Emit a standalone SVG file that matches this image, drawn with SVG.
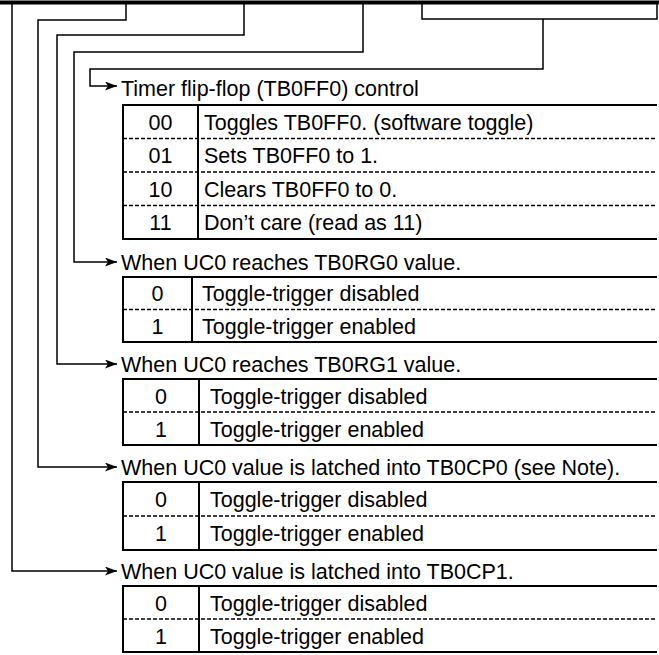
<svg xmlns="http://www.w3.org/2000/svg" width="659" height="655" viewBox="0 0 659 655">
<defs>
<marker id="arr" viewBox="0 0 12 9" refX="12" refY="4.5" markerWidth="12" markerHeight="9" markerUnits="userSpaceOnUse" orient="auto">
<path d="M0,0 L12,4.5 L0,9 L3,4.5 Z" fill="#000"/>
</marker>
<style>
text{font-family:"Liberation Sans",Arial,Helvetica,sans-serif;font-size:21.5px;fill:#000}
.c{text-anchor:middle}
.frame{fill:none;stroke:#000;stroke-width:2}
.dash{fill:none;stroke:#000;stroke-width:1.5;stroke-dasharray:4 2}
.conn{fill:none;stroke:#000;stroke-width:1.5}
.arrow{marker-end:url(#arr)}
</style>
</defs>
<rect width="659" height="655" fill="#fff"/>

<g id="register-bar">
<rect x="0" y="0.5" width="659" height="4" fill="#000"/>
</g>

<g id="connectors">
<path class="conn arrow" d="M12,4 V571 H117"/>
<path class="conn arrow" d="M126,4 V20 H38 V467 H117"/>
<path class="conn arrow" d="M244,4 V35 H57 V364 H117"/>
<path class="conn arrow" d="M363,4 V52 H74 V262 H117"/>
<path class="conn" d="M422,4 V19 H657 V4"/>
<path class="conn arrow" d="M543,19 V69 H90 V86 H117"/>
</g>

<g id="node-ff-control">
<text x="121" y="96">Timer flip-flop (TB0FF0) control</text>
<path class="frame" d="M657,105 H123 V239 H657 M198,105 V239"/>
<path class="dash" d="M123,138.5 H657 M123,172 H657 M123,205.5 H657"/>
<text class="c" x="160.5" y="129.5">00</text>
<text class="c" x="160.5" y="163">01</text>
<text class="c" x="160.5" y="196.5">10</text>
<text class="c" x="160.5" y="230">11</text>
<text x="204" y="129.5">Toggles TB0FF0. (software toggle)</text>
<text x="204" y="163">Sets TB0FF0 to 1.</text>
<text x="204" y="196.5">Clears TB0FF0 to 0.</text>
<text x="204" y="230">Don’t care (read as 11)</text>
</g>

<g id="node-rg0">
<text x="121" y="270">When UC0 reaches TB0RG0 value.</text>
<path class="frame" d="M657,277 H123 V342 H657 M192,277 V342"/>
<path class="dash" d="M123,309.5 H657"/>
<text class="c" x="157.5" y="301">0</text>
<text class="c" x="157.5" y="333.5">1</text>
<text x="202" y="301">Toggle-trigger disabled</text>
<text x="202" y="333.5">Toggle-trigger enabled</text>
</g>

<g id="node-rg1">
<text x="121" y="372">When UC0 reaches TB0RG1 value.</text>
<path class="frame" d="M657,379 H123 V445 H657 M199,379 V445"/>
<path class="dash" d="M123,412 H657"/>
<text class="c" x="161" y="403.5">0</text>
<text class="c" x="161" y="436.5">1</text>
<text x="210" y="403.5">Toggle-trigger disabled</text>
<text x="210" y="436.5">Toggle-trigger enabled</text>
</g>

<g id="node-cp0">
<text x="121" y="475">When UC0 value is latched into TB0CP0 (see Note).</text>
<path class="frame" d="M657,482 H123 V550 H657 M199,482 V550"/>
<path class="dash" d="M123,516 H657"/>
<text class="c" x="161" y="507">0</text>
<text class="c" x="161" y="541">1</text>
<text x="210" y="507">Toggle-trigger disabled</text>
<text x="210" y="541">Toggle-trigger enabled</text>
</g>

<g id="node-cp1">
<text x="121" y="579">When UC0 value is latched into TB0CP1.</text>
<path class="frame" d="M657,586 H123 V652 H657 M199,586 V652"/>
<path class="dash" d="M123,619 H657"/>
<text class="c" x="161" y="610.5">0</text>
<text class="c" x="161" y="643.5">1</text>
<text x="210" y="610.5">Toggle-trigger disabled</text>
<text x="210" y="643.5">Toggle-trigger enabled</text>
</g>
</svg>
